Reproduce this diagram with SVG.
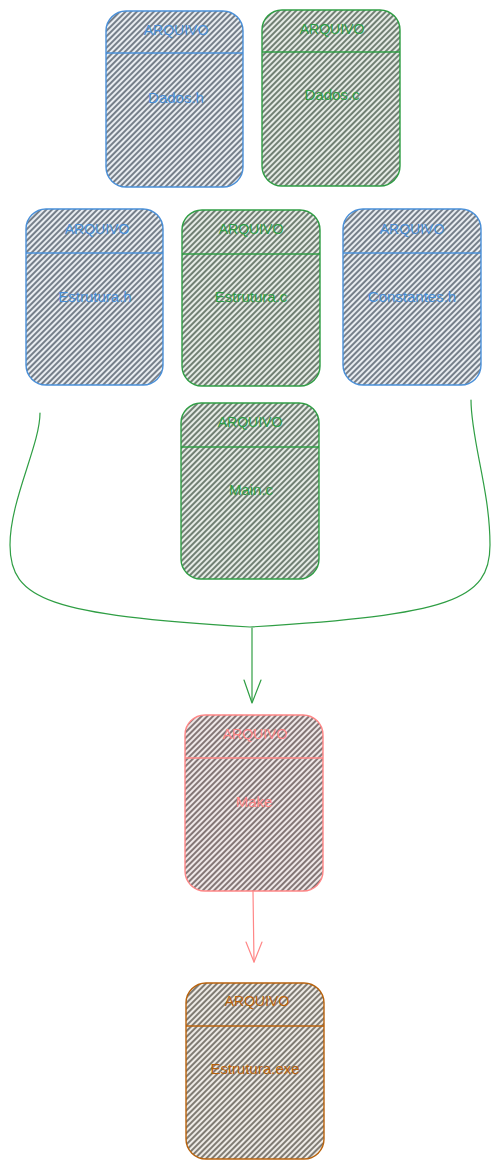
<svg xmlns="http://www.w3.org/2000/svg" width="502" height="1169" viewBox="0 0 502 1169">
<style>
.t{font-family:"Liberation Sans",Arial,sans-serif;text-anchor:middle;dominant-baseline:middle}
.h{font-size:14px}
.l{font-size:15px}
.box{stroke-width:1.4}
.div{stroke-width:1.4}
.bb{stroke:#4a90d9;fill:url(#hb)}
.bg{stroke:#2f9e44;fill:url(#hg)}
.br{stroke:#ff8787;fill:url(#hr)}
.bo{stroke:#b8620c;fill:url(#ho)}
.tb{fill:#4a90d9}
.tg{fill:#2f9e44}
.tr{fill:#ff8787}
.to{fill:#b8620c}
.conn{fill:none;stroke-width:1.2;stroke-linecap:round;stroke-linejoin:round}
.cg{stroke:#2f9e44}
.cr{stroke:#ff8787}
</style>
<defs>
<pattern id="hb" width="4" height="4" patternUnits="userSpaceOnUse" patternTransform="rotate(45)"><rect width="4" height="4" fill="#e9edf1"/><line x1="1" y1="0" x2="1" y2="4" stroke="#44505e" stroke-width="1.4"/></pattern>
<pattern id="hg" width="4" height="4" patternUnits="userSpaceOnUse" patternTransform="rotate(45)"><rect width="4" height="4" fill="#e6ece6"/><line x1="1" y1="0" x2="1" y2="4" stroke="#3f5242" stroke-width="1.4"/></pattern>
<pattern id="hr" width="4" height="4" patternUnits="userSpaceOnUse" patternTransform="rotate(45)"><rect width="4" height="4" fill="#efe8e8"/><line x1="1" y1="0" x2="1" y2="4" stroke="#564646" stroke-width="1.4"/></pattern>
<pattern id="ho" width="4" height="4" patternUnits="userSpaceOnUse" patternTransform="rotate(45)"><rect width="4" height="4" fill="#eeebe6"/><line x1="1" y1="0" x2="1" y2="4" stroke="#514c42" stroke-width="1.4"/></pattern>
</defs>

<g id="connectors">
<path class="conn cg" d="M40,413 C40,445 10,500 10,545 C10,600 50,615 250,627 C450,615 490,600 490,545 C490,490 471,440 471,400"/>
<path class="conn cg" d="M252,628 L252,702"/>
<path class="conn cg" d="M244,680 L252,703 L261,680"/>
<path class="conn cr" d="M253,891 L254,962"/>
<path class="conn cr" d="M246,942 L254,962 L262,942"/>
</g>

<g id="dados-h">
<rect class="box bb" x="106" y="11" width="137" height="176" rx="20"/>
<line class="div bb" x1="106" y1="53" x2="243" y2="53"/>
<text class="t h tb" x="176" y="31">ARQUIVO</text>
<text class="t l tb" x="176" y="99">Dados.h</text>
</g>

<g id="dados-c">
<rect class="box bg" x="262" y="10" width="138" height="176" rx="20"/>
<line class="div bg" x1="262" y1="52" x2="400" y2="52"/>
<text class="t h tg" x="332" y="30">ARQUIVO</text>
<text class="t l tg" x="332" y="96">Dados.c</text>
</g>

<g id="estrutura-h">
<rect class="box bb" x="26" y="209" width="137" height="176" rx="20"/>
<line class="div bb" x1="26" y1="253" x2="163" y2="253"/>
<text class="t h tb" x="97" y="230">ARQUIVO</text>
<text class="t l tb" x="95" y="298">Estrutura.h</text>
</g>

<g id="estrutura-c">
<rect class="box bg" x="182" y="210" width="138" height="176" rx="20"/>
<line class="div bg" x1="182" y1="254" x2="320" y2="254"/>
<text class="t h tg" x="251" y="230">ARQUIVO</text>
<text class="t l tg" x="251" y="298">Estrutura.c</text>
</g>

<g id="constantes-h">
<rect class="box bb" x="343" y="209" width="138" height="176" rx="20"/>
<line class="div bb" x1="343" y1="253" x2="481" y2="253"/>
<text class="t h tb" x="412" y="230">ARQUIVO</text>
<text class="t l tb" x="412" y="298">Constantes.h</text>
</g>

<g id="main-c">
<rect class="box bg" x="181" y="403" width="138" height="176" rx="20"/>
<line class="div bg" x1="181" y1="447" x2="319" y2="447"/>
<text class="t h tg" x="250" y="423">ARQUIVO</text>
<text class="t l tg" x="251" y="491">Main.c</text>
</g>

<g id="make">
<rect class="box br" x="185" y="715" width="138" height="176" rx="20"/>
<line class="div br" x1="185" y1="758" x2="323" y2="758"/>
<text class="t h tr" x="255" y="735">ARQUIVO</text>
<text class="t l tr" x="254" y="803">Make</text>
</g>

<g id="estrutura-exe">
<rect class="box bo" x="186" y="983" width="138" height="176" rx="20"/>
<line class="div bo" x1="186" y1="1026" x2="324" y2="1026"/>
<text class="t h to" x="257" y="1002">ARQUIVO</text>
<text class="t l to" x="255" y="1070">Estrutura.exe</text>
</g>
</svg>
